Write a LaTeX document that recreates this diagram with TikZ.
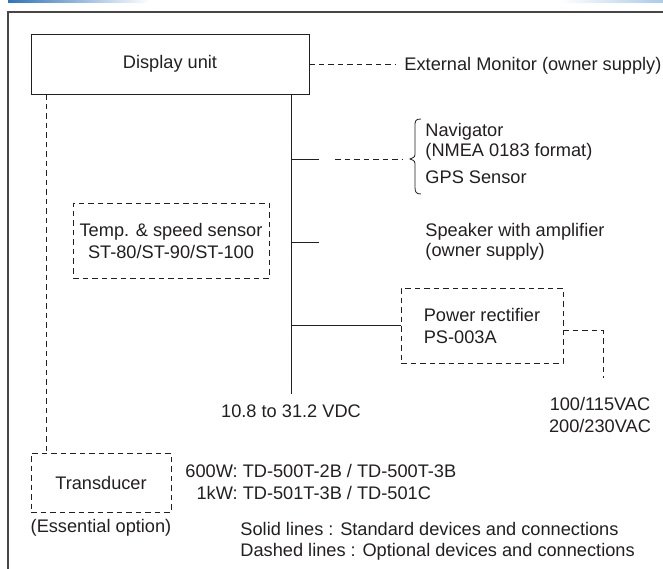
\documentclass[tikz,border=0pt]{standalone}
\usepackage{fontspec}
\setmainfont{Liberation Sans}
\usepackage{tikz}
\usetikzlibrary{positioning}
\definecolor{ink}{HTML}{231F20}
\definecolor{band}{HTML}{2E74C0}
\definecolor{bandlight}{HTML}{A9CBEA}
\definecolor{framegray}{HTML}{4A4444}

\begin{document}
\begin{tikzpicture}[x=1pt,y=-1pt,line width=0.95pt,color=ink,font=\fontsize{18.2}{22}\selectfont]
\tikzstyle{unit}=[draw,solid,inner sep=0pt]
\tikzstyle{opt}=[dash pattern=on 5.5pt off 4pt]
\tikzstyle{optbox}=[unit,opt]
\tikzstyle{txt}=[inner sep=0pt,align=left]
\useasboundingbox (0,0) rectangle (663,569);
\shade[left color=band,right color=white] (8,0) rectangle (150,2.5);
\shade[left color=white,right color=bandlight] (560,0) rectangle (663,2.5);
\draw[framegray,line width=1.5pt] (8,569) -- (8,12) -- (663,12);

\node[unit,minimum width=278pt,minimum height=60pt] (U) at (170,64) {Display unit};
\node[txt,anchor=west] (M) at (404,66) {External Monitor (owner supply)};
\node[optbox,minimum width=196pt,minimum height=75pt,align=center] (S) at (171,240.5) {Temp. \& speed sensor\\ST-80/ST-90/ST-100};
\node[txt,anchor=west,font=\fontsize{18.2}{20}\selectfont] (N) at (425,142) {Navigator\\(NMEA 0183 format)};
\node[txt,below right=9pt and 0pt of N.south west] (G) {GPS Sensor};
\node[txt,anchor=west,font=\fontsize{18.2}{20}\selectfont] (K) at (425,242) {Speaker with amplifier\\(owner supply)};
\node[optbox,minimum width=162pt,minimum height=75pt,align=left] (P) at (482,325.5) {Power rectifier\\PS-003A};
\node[txt,align=center] (V) at (291,411) {10.8 to 31.2 VDC};
\node[txt,align=center] (A) at (600,415) {100/115VAC\\200/230VAC};
\node[optbox,minimum width=140pt,minimum height=59pt] (T) at (101,482.5) {Transducer};
\node[txt,below=6pt of T] (E) {(Essential option)};
\node[txt,anchor=west] (L) at (185,484) {\begin{tabular}{@{}r@{ }l@{}}600W:&TD-500T-2B / TD-500T-3B\\1kW:&TD-501T-3B / TD-501C\end{tabular}};
\node[txt,anchor=west,font=\fontsize{18.2}{21}\selectfont] (R) at (240,541.5) {Solid lines : Standard devices and connections\\Dashed lines : Optional devices and connections};

\coordinate (B) at (291,394);
\coordinate (Ntip) at (410,159);
\coordinate (C) at (603,378);

\draw (U.south -| B) -- (B);
\draw[opt,shorten >=9pt] (U.east) -- (U.east -| M.west);
\draw (Ntip -| B) -- +(28,0);
\draw[opt] ([xshift=-75pt]Ntip) -- ([xshift=-8pt]Ntip);
\draw[line width=0.8pt] (421,119) .. controls (415,119) and (415,121) .. (415,127) -- (415,152)
  .. controls (415,157) .. (Ntip) .. controls (415,161) .. (415,166) -- (415,187)
  .. controls (415,192) and (416,194) .. (421,194);
\draw (K.west -| B) -- +(28,0);
\draw (P.west -| B) -- (P.west);
\draw[opt] ([yshift=-5pt]P.east) -| (C);
\draw[opt] ([xshift=16pt]U.south west) -- ([xshift=16pt]T.north west);

\end{tikzpicture}
\end{document}
